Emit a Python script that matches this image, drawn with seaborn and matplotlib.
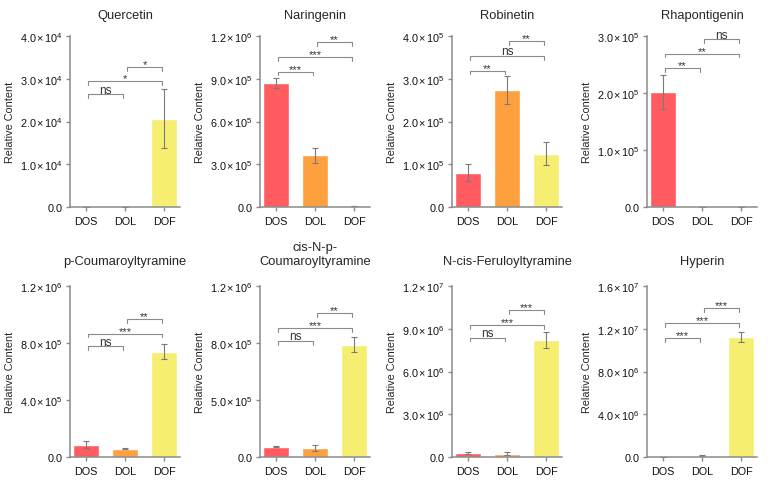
import matplotlib
matplotlib.use("Agg")
import matplotlib.pyplot as plt
import seaborn as sb
import numpy as np

# groups and colours
groups = ["DOS", "DOL", "DOF"]
bar_colors = ["#FF5B60", "#FFA03E", "#F5EE70"]

titles = ["Quercetin", "Naringenin", "Robinetin", "Rhapontigenin",
          "p-Coumaroyltyramine", "cis-N-p-\nCoumaroyltyramine",
          "N-cis-Feruloyltyramine", "Hyperin"]

# mean values per panel (DOS, DOL, DOF)
means = [
    [0, 0, 2.07e4],
    [8.7e5, 3.62e5, 8e3],
    [0.80e5, 2.74e5, 1.25e5],
    [2.02e5, 0, 0],
    [8.7e4, 5.9e4, 7.4e5],
    [7.3e4, 6.1e4, 7.88e5],
    [2.8e5, 2.3e5, 8.19e6],
    [1e4, 1.2e5, 1.122e7],
]
# standard deviations
sds = [
    [0, 0, 6.9e3],
    [3.7e4, 5.4e4, 2e3],
    [2.0e4, 3.2e4, 2.6e4],
    [3.0e4, 0, 0],
    [2.7e4, 3e3, 5.4e4],
    [5e3, 2e4, 5.3e4],
    [0.8e5, 0.9e5, 5.6e5],
    [0, 3e4, 4.8e5],
]

yticks = [
    [0, 1e4, 2e4, 3e4, 4e4],
    [0, 3e5, 6e5, 9e5, 1.2e6],
    [0, 1e5, 2e5, 3e5, 4e5],
    [0, 1e5, 2e5, 3e5],
    [0, 4e5, 8e5, 1.2e6],
    [0, 4e5, 8e5, 1.2e6],
    [0, 3e6, 6e6, 9e6, 1.2e7],
    [0, 4e6, 8e6, 1.2e7, 1.6e7],
]

def sci(m, e):
    return r"$\mathrm{%s\,{\times}\,10^{%d}}$" % (m, e)

ytick_labels = [
    ["0.0", sci("1.0", 4), sci("2.0", 4), sci("3.0", 4), sci("4.0", 4)],
    ["0.0", sci("3.0", 5), sci("6.0", 5), sci("9.0", 5), sci("1.2", 6)],
    ["0.0", sci("1.0", 5), sci("2.0", 5), sci("3.0", 5), sci("4.0", 5)],
    ["0.0", sci("1.0", 5), sci("2.0", 5), sci("3.0", 5)],
    ["0.0", sci("4.0", 5), sci("8.0", 5), sci("1.2", 6)],
    ["0.0", sci("5.0", 5), sci("8.0", 5), sci("1.2", 6)],
    ["0.0", sci("3.0", 6), sci("6.0", 6), sci("9.0", 6), sci("1.2", 7)],
    ["0.0", sci("4.0", 6), sci("8.0", 6), sci("1.2", 7), sci("1.6", 7)],
]

# significance brackets: (from, to, height, label)
brackets = [
    [(0, 1, 2.64e4, "ns"), (0, 2, 2.94e4, "*"), (1, 2, 3.28e4, "*")],
    [(0, 1, 9.5e5, "***"), (0, 2, 1.05e6, "***"), (1, 2, 1.157e6, "**")],
    [(0, 1, 3.19e5, "**"), (0, 2, 3.53e5, "ns"), (1, 2, 3.88e5, "**")],
    [(0, 1, 2.43e5, "**"), (0, 2, 2.69e5, "**"), (1, 2, 2.94e5, "ns")],
    [(0, 1, 7.76e5, "ns"), (0, 2, 8.65e5, "***"), (1, 2, 9.7e5, "**")],
    [(0, 1, 8.14e5, "ns"), (0, 2, 9.06e5, "***"), (1, 2, 1.012e6, "**")],
    [(0, 1, 8.37e6, "ns"), (0, 2, 9.24e6, "***"), (1, 2, 1.03e7, "***")],
    [(0, 1, 1.113e7, "***"), (0, 2, 1.254e7, "***"), (1, 2, 1.395e7, "***")],
]

sb.set_style("ticks")
plt.rcParams['font.family'] = ['Liberation Sans', 'DejaVu Sans']
plt.rcParams['mathtext.fontset'] = 'custom'
plt.rcParams['mathtext.rm'] = 'Liberation Sans'
plt.rcParams['mathtext.it'] = 'Liberation Sans:italic'
plt.rcParams['mathtext.bf'] = 'Liberation Sans:bold'

W, H = 771, 481
fig = plt.figure(figsize=(W / 100, H / 100), dpi=100)

lefts = [70, 260, 452, 647]
tops = [37, 287]
ax_w, ax_h = 110, 171
grey = "#8a8a8a"

for i in range(8):
    r, c = divmod(i, 4)
    ax = fig.add_axes([lefts[c] / W, (H - tops[r] - ax_h) / H, ax_w / W, ax_h / H])
    sb.barplot(x=groups, y=means[i], hue=groups, palette=bar_colors,
               width=0.67, saturation=1, legend=False, ax=ax)
    ax.errorbar(range(3), means[i], yerr=sds[i], fmt='none', ecolor='#7a7a7a',
                elinewidth=0.8, capsize=2.4, capthick=0.8)
    ymax = yticks[i][-1]
    ax.set_ylim(0, ymax)
    ax.set_xlim(-0.41, 2.41)
    ax.set_yticks(yticks[i])
    ax.set_yticklabels(ytick_labels[i])
    ax.set_ylabel("Relative Content", fontsize=7.8, labelpad=4)
    ax.set_xlabel("")
    ax.set_title(titles[i], fontsize=9.3, pad=13 if r == 0 else 16)
    for s in ["top", "right"]:
        ax.spines[s].set_visible(False)
    for s in ["left", "bottom"]:
        ax.spines[s].set_color(grey)
        ax.spines[s].set_linewidth(1.1)
    ax.tick_params(axis='both', colors=grey, labelcolor='#111111',
                   labelsize=7.8, length=3, width=1.0, pad=2)
    ax.tick_params(axis='x', pad=3.5)
    # significance brackets
    d = ymax * 0.022
    for a, b, h, lab in brackets[i]:
        xa, xb = a + 0.05, b - 0.05
        ax.plot([xa, xa, xb, xb], [h - d, h, h, h - d], color='#8a8a8a', lw=0.8,
                clip_on=False)
        if lab == "ns":
            ax.text((a + b) / 2, h - ymax * 0.008, lab, ha='center', va='bottom',
                    fontsize=8.5, color='#333333')
        else:
            ax.text((a + b) / 2, h - ymax * 0.012, lab, ha='center', va='bottom',
                    fontsize=8, color='#333333')

plt.savefig("out.png", dpi=100)
